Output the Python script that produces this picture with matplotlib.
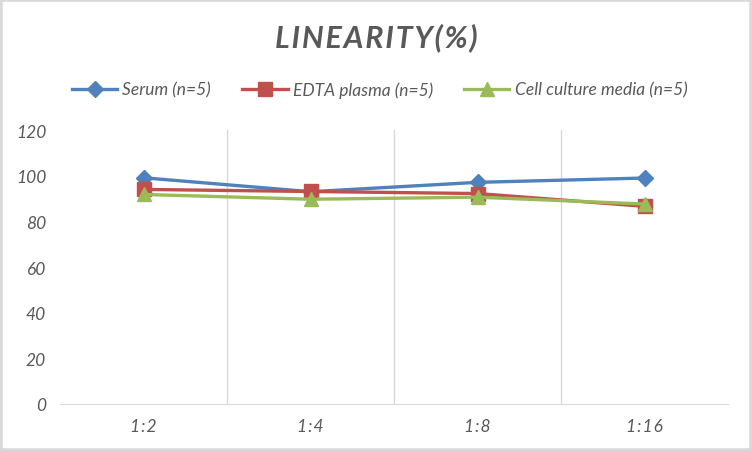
import matplotlib
matplotlib.use("Agg")
from matplotlib import pyplot as plt
from matplotlib.patches import Rectangle

categories = ['1:2', '1:4', '1:8', '1:16']
serum = [99.1, 93.0, 97.1, 99.0]
edta = [94.0, 93.1, 92.2, 86.6]
cell = [91.8, 89.7, 90.6, 87.6]
labels = ['Serum (n=5)', 'EDTA plasma (n=5)', 'Cell culture media (n=5)']
yticks = [0, 20, 40, 60, 80, 100, 120]

plt.rcParams['font.family'] = ['Lato', 'DejaVu Sans']
grey = '#595959'

fig = plt.figure(figsize=(7.52, 4.52), dpi=100)
ax = fig.add_axes([0.0798, 0.104, 0.8883, 0.606])

x = list(range(len(categories)))
ax.plot(x, serum, color='#4F81BD', lw=2.4, marker='D', ms=8, label=labels[0])
ax.plot(x, edta, color='#C0504D', lw=2.4, marker='s', ms=10, label=labels[1])
ax.plot(x, cell, color='#9BBB59', lw=2.4, marker='^', ms=10, label=labels[2])

ax.set_xlim(-0.5, len(categories) - 0.5)
ax.set_ylim(0, 120)
ax.set_yticks(yticks)
ax.set_xticks(x)
# spaced like the Excel original
ax.set_xticklabels(['\u200a'.join(c) for c in categories])
ax.set_xticks([i + 0.5 for i in x[:-1]], minor=True)
ax.grid(which='minor', axis='x', color='#D9D9D9', lw=1)
ax.tick_params(which='both', length=0)
ax.tick_params(axis='y', pad=10, labelsize=12.5, labelcolor=grey)
ax.tick_params(axis='x', pad=10, labelsize=12.5, labelcolor=grey)
for t in ax.get_xticklabels() + ax.get_yticklabels():
    t.set_style('italic')
for s in ['top', 'right', 'left']:
    ax.spines[s].set_visible(False)
ax.spines['bottom'].set_color('#D9D9D9')

title = '\u200a'.join('LINEARITY(%)')
fig.text(0.5, 0.916, title, ha='center', va='center', fontsize=22,
         fontweight='bold', style='italic', color=grey)
leg = fig.legend(loc='center', bbox_to_anchor=(0.505, 0.80), ncol=3, frameon=False,
                 handlelength=2.6, columnspacing=1.8, handletextpad=0.3,
                 prop={'size': 12.5, 'style': 'italic'})
for t in leg.get_texts():
    t.set_color(grey)

fig.patches.append(Rectangle((0, 0), 1, 1, transform=fig.transFigure, fill=False,
                             edgecolor='#D9D9D9', lw=4))

fig.savefig('out.png', dpi=100)
